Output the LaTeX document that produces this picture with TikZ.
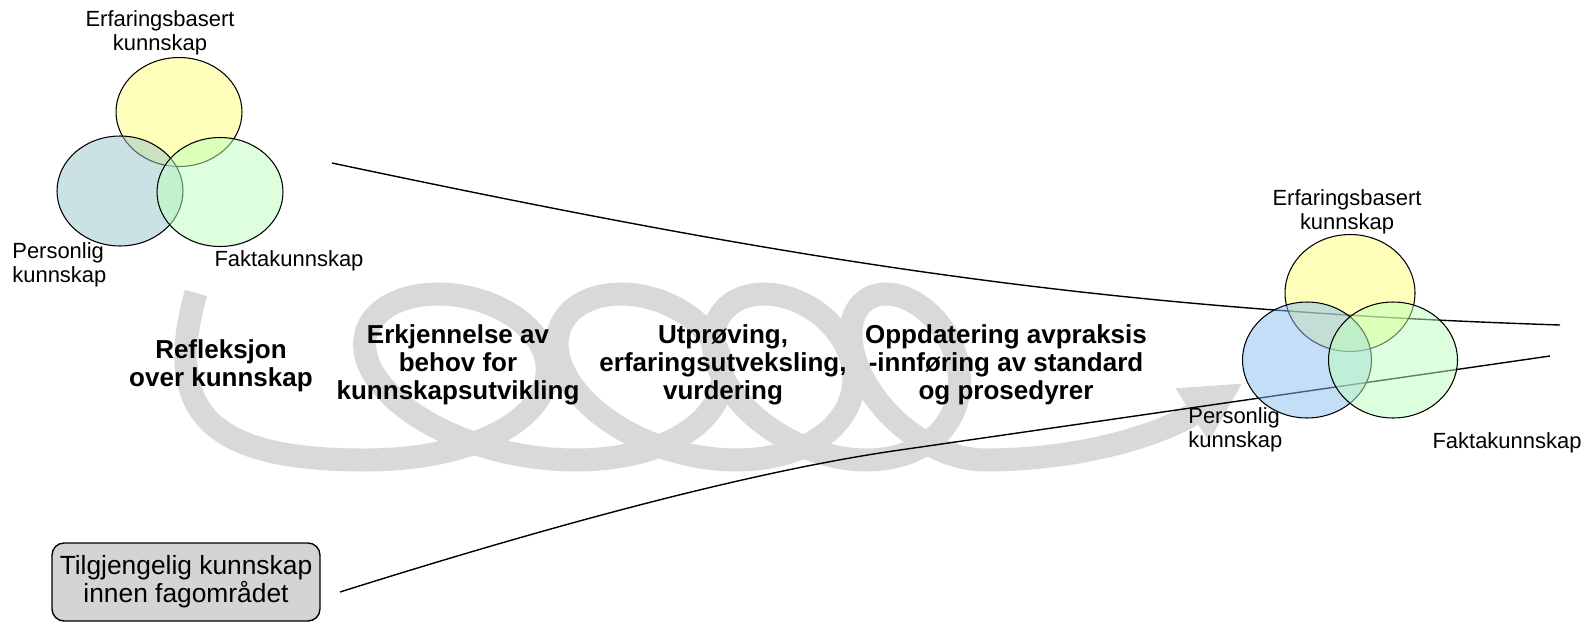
\documentclass[tikz,border=0pt]{standalone}
\usepackage{fontspec}
\setmainfont{Liberation Sans}
\usepackage{tikz}
\usetikzlibrary{shapes.geometric}
\usetikzlibrary{arrows.meta}

\definecolor{erfyellow}{RGB}{255,255,120}
\definecolor{perteal}{RGB}{150,198,200}
\definecolor{perblue}{RGB}{137,189,241}
\definecolor{fakgreen}{RGB}{187,255,187}

\tikzset{
    venn/.style={ellipse, draw=black, line width=0.6pt, fill opacity=0.5, inner sep=0pt, outer sep=0pt},
    smalltext/.style={font=\fontsize{12.5}{14}\selectfont, align=center, inner sep=0pt},
    phase/.style={font=\fontsize{14.8}{15.8}\selectfont\bfseries, align=center, inner sep=0pt},
    funnel/.style={line width=0.8pt, black},
    coil/.style={line width=0.46cm, black!15, line join=round, -{Triangle[width=1.16cm,length=1.2cm]}}
}

\begin{document}
\begin{tikzpicture}[x=0.02cm, y=-0.02cm]
        \useasboundingbox (0,0) rectangle (1588,622);

        % spiral
        \draw[coil] (196,293) .. controls (160,420) and (220,460) .. (365.6,460)
            -- plot[variable=\t, domain=0.5:4.5, samples=400]
            ({458+183*(\t-1)-20*(\t-1)*(\t-2)+3.167*(\t-1)*(\t-2)*(\t-3)-(158-20*\t)*sin(360*\t)-20*cos(360*\t)}, {377-83*cos(360*\t)})
            .. controls (1080,460) and (1160,435) .. (1243,383);

        % funnel lines
        \coordinate (upstart) at (332,163);
        \coordinate (upend) at (1560,325);
        \coordinate (lowstart) at (340,592);
        \coordinate (lowbend) at (900,450);
        \coordinate (lowend) at (1550,356);
        \draw[funnel] (upstart) .. controls (800,262) and (1100,310) .. (upend);
        \draw[funnel] (lowstart) .. controls (600,510) and (780,467) .. (lowbend) -- (lowend);

        % left circles
        \node[venn, fill=erfyellow, minimum width=2.52cm, minimum height=2.18cm] (lerf) at (179,112) {};
        \node[venn, fill=perteal, minimum width=2.52cm, minimum height=2.2cm] (lper) at (120,191) {};
        \node[venn, fill=fakgreen, minimum width=2.52cm, minimum height=2.18cm] (lfak) at (220,192) {};
        \node[smalltext] (lerflab) at (160,33) {Erfaringsbasert\\kunnskap};
        \node[smalltext, anchor=west, align=left] (lperlab) at (12,265) {Personlig\\kunnskap};
        \node[smalltext] (lfaklab) at (289,261) {Faktakunnskap};

        % right circles
        \node[venn, fill=erfyellow, minimum width=2.6cm, minimum height=2.34cm] (rerf) at (1350,293) {};
        \node[venn, fill=perblue, minimum width=2.58cm, minimum height=2.32cm] (rper) at (1307,360) {};
        \node[venn, fill=fakgreen, minimum width=2.58cm, minimum height=2.32cm] (rfak) at (1393,360) {};
        \node[smalltext] (rerflab) at (1347,212) {Erfaringsbasert\\kunnskap};
        \node[smalltext, anchor=west, align=left] (rperlab) at (1188,430) {Personlig\\kunnskap};
        \node[smalltext] (rfaklab) at (1507,443) {Faktakunnskap};

        % phases
        \node[phase] (refl) at (221,366) {Refleksjon\\over kunnskap};
        \node[phase] (erkj) at (458,365) {Erkjennelse av\\behov for\\kunnskapsutvikling};
        \node[phase] (utpr) at (723,365) {Utprøving,\\erfaringsutveksling,\\vurdering};
        \node[phase] (oppd) at (1006,365) {Oppdatering avpraksis\\-innføring av standard\\og prosedyrer};

        % source box
        \node[draw, line width=0.8pt, rounded corners=0.24cm, fill=black!17, minimum width=5.36cm, minimum height=1.56cm,
            font=\fontsize{15}{16}\selectfont, align=center] (tilg) at (186,582) {Tilgjengelig kunnskap\\innen fagområdet};
\end{tikzpicture}
\end{document}
